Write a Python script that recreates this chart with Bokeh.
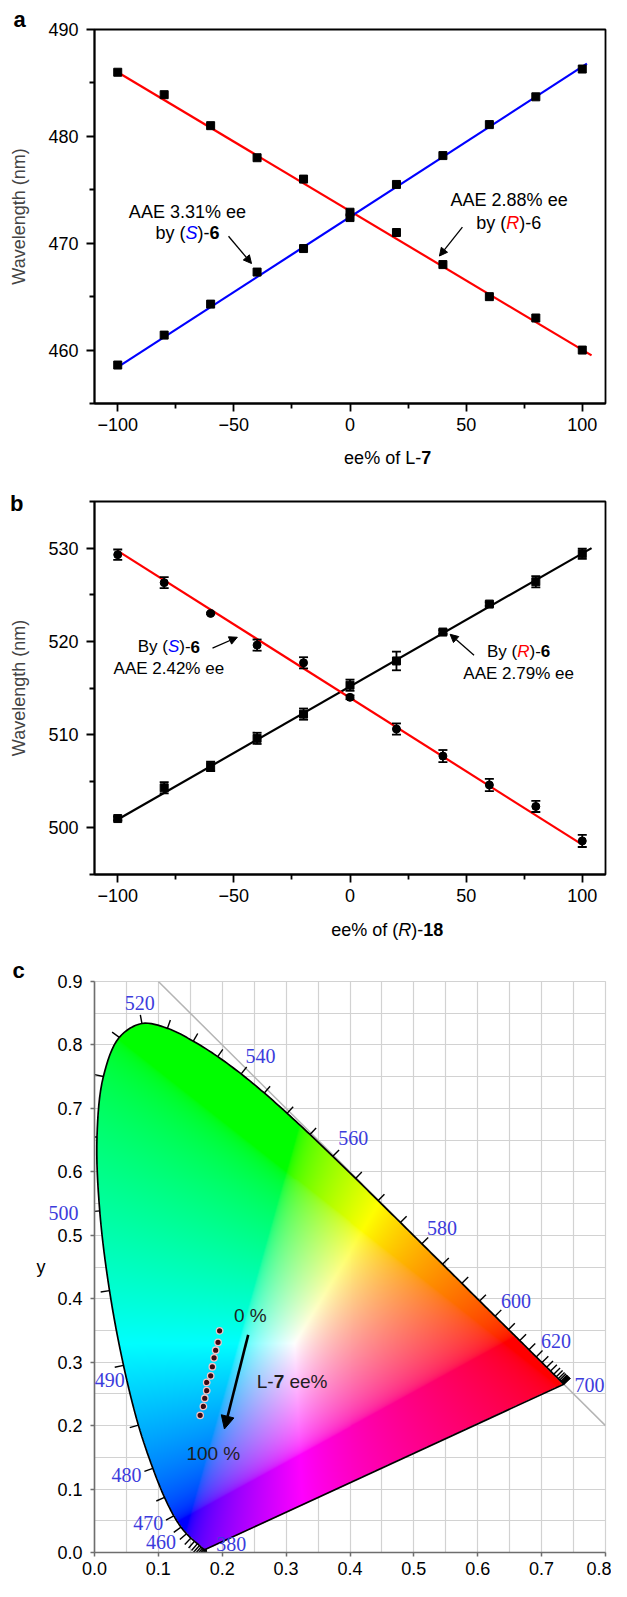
import numpy as np
from bokeh.plotting import figure
from bokeh.models import (Range1d, FixedTicker, LinearAxis, Label, Arrow, NormalHead,
                          Whisker, ColumnDataSource, TeeHead, Title, PrintfTickFormatter)
from bokeh.layouts import column
from bokeh.embed import file_html
from bokeh.resources import INLINE

FONT = "Liberation Sans"
SERIF = "Liberation Serif"

# ---------------- data: panel a ----------------
ee = [-100, -80, -60, -40, -20, 0, 20, 40, 60, 80, 100]
a_R = [486.0, 483.9, 481.0, 478.0, 476.0, 472.9, 471.0, 468.0, 465.0, 463.0, 460.0]
a_S = [458.6, 461.4, 464.3, 467.3, 469.5, 472.4, 475.5, 478.2, 481.1, 483.7, 486.3]
a_fitR_x = [-100, 104]
a_fitR_y = [486.0, 459.5]
a_fitS_x = [-100, 102]
a_fitS_y = [458.4, 486.8]

# ---------------- data: panel b ----------------
b_sq = [501.0, 504.3, 506.6, 509.6, 512.2, 515.3, 517.9, 521.0, 524.0, 526.4, 529.4]
b_sq_err = [0.2, 0.6, 0.5, 0.6, 0.6, 0.6, 1.0, 0.2, 0.2, 0.6, 0.55]
b_ci = [529.3, 526.3, 523.0, 519.6, 517.7, 514.0, 510.6, 507.7, 504.6, 502.3, 498.6]
b_ci_err = [0.55, 0.6, 0.1, 0.6, 0.6, 0.2, 0.6, 0.65, 0.65, 0.6, 0.65]
b_fitSq_x = [-100, 104]
b_fitSq_y = [500.9, 530.0]
b_fitCi_x = [-100, 100]
b_fitCi_y = [529.7, 498.2]

# ---------------- data: panel c (CIE 1931 spectral locus, 380-700 nm every 5 nm) ----------------
cie_nm = list(range(380, 705, 5))
cie_x = [0.1741, 0.1740, 0.1738, 0.1736, 0.1733, 0.1730, 0.1726, 0.1721, 0.1714, 0.1703,
         0.1689, 0.1669, 0.1644, 0.1611, 0.1566, 0.1510, 0.1440, 0.1355, 0.1241, 0.1096,
         0.0913, 0.0687, 0.0454, 0.0235, 0.0082, 0.0039, 0.0139, 0.0389, 0.0743, 0.1142,
         0.1547, 0.1929, 0.2296, 0.2658, 0.3016, 0.3373, 0.3731, 0.4087, 0.4441, 0.4788,
         0.5125, 0.5448, 0.5752, 0.6029, 0.6270, 0.6482, 0.6658, 0.6801, 0.6915, 0.7006,
         0.7079, 0.7140, 0.7190, 0.7230, 0.7260, 0.7283, 0.7300, 0.7311, 0.7320, 0.7327,
         0.7334, 0.7340, 0.7344, 0.7346, 0.7347]
cie_y = [0.0050, 0.0050, 0.0049, 0.0049, 0.0048, 0.0048, 0.0048, 0.0048, 0.0051, 0.0058,
         0.0069, 0.0086, 0.0109, 0.0138, 0.0177, 0.0227, 0.0297, 0.0399, 0.0578, 0.0868,
         0.1327, 0.2007, 0.2950, 0.4127, 0.5384, 0.6548, 0.7502, 0.8120, 0.8338, 0.8262,
         0.8059, 0.7816, 0.7543, 0.7243, 0.6923, 0.6589, 0.6245, 0.5896, 0.5547, 0.5202,
         0.4866, 0.4544, 0.4242, 0.3965, 0.3725, 0.3514, 0.3340, 0.3197, 0.3083, 0.2993,
         0.2920, 0.2859, 0.2809, 0.2770, 0.2740, 0.2717, 0.2700, 0.2689, 0.2680, 0.2673,
         0.2666, 0.2660, 0.2654, 0.2654, 0.2653]
wl_labels = ["520", "540", "560", "580", "600", "620", "700", "490", "480", "470", "460", "380"]
wl_lab_x = [0.071, 0.260, 0.405, 0.544, 0.660, 0.7225, 0.775, 0.024, 0.050, 0.084, 0.104, 0.214]
wl_lab_y = [0.866, 0.782, 0.653, 0.511, 0.397, 0.333, 0.2635, 0.272, 0.122, 0.047, 0.017, 0.014]
wl500_label = "500"
wl500_y = 0.535
ee_pts_x = [0.1959, 0.1934, 0.1897, 0.1872, 0.1845, 0.1819, 0.1757, 0.1757, 0.1726, 0.1705, 0.1654]
ee_pts_y = [0.3494, 0.3313, 0.3188, 0.3068, 0.2928, 0.2784, 0.2680, 0.2551, 0.2431, 0.2302, 0.2162]
diag_x = [0.1, 0.8]
diag_y = [0.9, 0.2]
white_pt = (0.3127, 0.3290)

# ---------------- helpers ----------------
WID = {' ': 278, '%': 889, '(': 333, ')': 333, '-': 333, '.': 278, 'A': 667, 'B': 667,
       'E': 667, 'L': 556, 'R': 722, 'S': 667, 'a': 556, 'b': 556, 'e': 556, 'f': 278,
       'l': 222, 'o': 556, 'y': 500, 'h': 556, 't': 278, 'g': 556, 'n': 556, 'm': 833}


def tw(s):
    return sum(WID.get(ch, 556) for ch in s) / 1000.0


def rich(p, x, y, segs, size, align="center", font=FONT):
    total = sum(tw(t) * size for t, _, _ in segs)
    off = -total / 2.0 if align == "center" else 0.0
    for t, st, col in segs:
        w = tw(t) * size
        lead = len(t) - len(t.lstrip(' '))
        txt = t.strip(' ')
        if txt:
            p.add_layout(Label(x=x, y=y, x_offset=off + lead * 0.278 * size, text=txt,
                               text_font=font, text_font_size=f"{size}px", text_font_style=st,
                               text_color=col, text_align="left", text_baseline="middle"))
        off += w


def base_fig(height, bt, bb, bl, br, xr, yr):
    p = figure(width=611, height=height, x_range=xr, y_range=yr, output_backend="svg",
               toolbar_location=None, min_border_top=bt, min_border_bottom=bb,
               min_border_left=bl, min_border_right=br)
    p.background_fill_color = "white"
    p.border_fill_color = "white"
    return p


def strip(height):
    s = figure(width=611, height=height, x_range=Range1d(0, 611), y_range=Range1d(0, height),
               output_backend="svg", toolbar_location=None, min_border=0,
               x_axis_location=None, y_axis_location=None)
    s.grid.visible = False
    s.outline_line_color = None
    s.background_fill_color = "white"
    s.border_fill_color = "white"
    return s


def letter_title(p, txt, offset, standoff):
    p.title = Title(text=txt, align="left", offset=offset, standoff=standoff,
                    text_font=FONT, text_font_size="22px", text_font_style="bold",
                    text_color="black", vertical_align="bottom")


def letter_axis(p, txt, yval, standoff):
    ax = LinearAxis(ticker=FixedTicker(ticks=[yval], minor_ticks=[]),
                    major_label_overrides={yval: txt}, major_label_text_font=FONT,
                    major_label_text_font_size="22px", major_label_text_font_style="bold",
                    major_label_text_color="black", axis_line_color=None,
                    major_tick_line_color=None, minor_tick_line_color=None,
                    major_tick_out=0, minor_tick_out=0, major_tick_in=0, minor_tick_in=0,
                    major_label_standoff=standoff)
    p.add_layout(ax, "left")


def style_axes(p, yt, ym):
    p.grid.visible = False
    p.xaxis.ticker = FixedTicker(ticks=[-100, -50, 0, 50, 100], minor_ticks=[-75, -25, 25, 75])
    p.yaxis.ticker = FixedTicker(ticks=yt, minor_ticks=ym)
    p.xaxis.major_label_overrides = {-100: "\u2212100", -50: "\u221250"}
    for ax in p.axis:
        ax.axis_line_width = 1.8
        ax.axis_line_color = "black"
        ax.major_tick_line_width = 1.8
        ax.minor_tick_line_width = 1.8
        ax.major_tick_out = 8
        ax.major_tick_in = 0
        ax.minor_tick_out = 5
        ax.minor_tick_in = 0
        ax.major_label_text_font = FONT
        ax.major_label_text_font_size = "18px"
        ax.major_label_text_color = "black"
    p.xaxis.major_label_standoff = 6
    p.yaxis.major_label_standoff = 8
    p.yaxis.axis_label = "Wavelength (nm)"
    p.yaxis.axis_label_text_font = FONT
    p.yaxis.axis_label_text_font_size = "18px"
    p.yaxis.axis_label_text_font_style = "normal"
    p.yaxis.axis_label_standoff = 16
    p.outline_line_color = "black"
    p.outline_line_width = 1.8


def arrow(p, xs, ys, xe, ye, size=8, lw=1.3):
    p.add_layout(Arrow(end=NormalHead(size=size, fill_color="black", line_color="black"),
                       x_start=xs, y_start=ys, x_end=xe, y_end=ye,
                       line_width=lw, line_color="black"))


# ---------------- panel a ----------------
pa = base_fig(439, 29, 36, 91, 2, Range1d(-110, 110), Range1d(455, 490))
style_axes(pa, [460, 470, 480, 490], [455, 465, 475, 485])
letter_title(pa, "a", -81, -5)
pa.line(a_fitR_x, a_fitR_y, line_color="#ff0000", line_width=2.2)
pa.line(a_fitS_x, a_fitS_y, line_color="#0000ff", line_width=2.2)
pa.scatter(ee, a_R, marker="square", size=8, color="black")
pa.scatter(ee, a_S, marker="square", size=8, color="black")
rich(pa, -70, 472.96, [("AAE 3.31% ee", "normal", "black")], 18)
rich(pa, -70, 470.96, [("by (", "normal", "black"), ("S", "italic", "#0000ff"),
                       (")-", "normal", "black"), ("6", "bold", "black")], 18)
rich(pa, 68.5, 474.04, [("AAE 2.88% ee", "normal", "black")], 18)
rich(pa, 68.3, 471.9, [("by (", "normal", "black"), ("R", "italic", "#ff0000"),
                       (")-6", "normal", "black")], 18)
arrow(pa, -52.3, 470.65, -42.4, 468.1)
arrow(pa, 48.4, 471.5, 38.5, 468.8)

cap_a = strip(46)
rich(cap_a, 350.5, 28, [("ee% of L-", "normal", "black"), ("7", "bold", "black")], 18)

# ---------------- panel b ----------------
pb = base_fig(425, 16, 36, 91, 2, Range1d(-110, 110), Range1d(495, 535))
style_axes(pb, [500, 510, 520, 530], [495, 505, 515, 525, 535])
letter_axis(pb, "b", 534.8, -17)
pb.line(b_fitSq_x, b_fitSq_y, line_color="black", line_width=2.2)
pb.line(b_fitCi_x, b_fitCi_y, line_color="#ff0000", line_width=2.2)
src_sq = ColumnDataSource(dict(x=ee, y=b_sq,
                               lo=[v - e for v, e in zip(b_sq, b_sq_err)],
                               hi=[v + e for v, e in zip(b_sq, b_sq_err)]))
src_ci = ColumnDataSource(dict(x=ee, y=b_ci,
                               lo=[v - e for v, e in zip(b_ci, b_ci_err)],
                               hi=[v + e for v, e in zip(b_ci, b_ci_err)]))
for src in (src_sq, src_ci):
    pb.add_layout(Whisker(source=src, base="x", upper="hi", lower="lo", line_width=1.8,
                          line_color="black", level="glyph",
                          upper_head=TeeHead(size=9, line_width=1.8, line_color="black"),
                          lower_head=TeeHead(size=9, line_width=1.8, line_color="black")))
pb.scatter("x", "y", source=src_sq, marker="square", size=8, color="black")
pb.scatter("x", "y", source=src_ci, marker="circle", size=8, color="black")
rich(pb, -78.0, 519.45, [("By (", "normal", "black"), ("S", "italic", "#0000ff"),
                         (")-", "normal", "black"), ("6", "bold", "black")], 17)
rich(pb, -78.0, 517.05, [("AAE 2.42% ee", "normal", "black")], 17)
rich(pb, 72.6, 518.92, [("By (", "normal", "black"), ("R", "italic", "#ff0000"),
                        (")-", "normal", "black"), ("6", "bold", "black")], 17)
rich(pb, 72.6, 516.52, [("AAE 2.79% ee", "normal", "black")], 17)
arrow(pb, -59.2, 519.28, -48.5, 520.44)
arrow(pb, 53.4, 518.5, 43.1, 520.76)

cap_b = strip(45)
rich(cap_b, 350, 26, [("ee% of (", "normal", "black"), ("R", "italic", "black"),
                      (")-", "normal", "black"), ("18", "bold", "black")], 18)

# ---------------- panel c ----------------
pc = base_fig(626, 26, 29, 94, 6, Range1d(0, 0.8), Range1d(0, 0.9))
letter_title(pc, "c", -82, -2)
pc.xaxis.ticker = FixedTicker(ticks=[0.0, 0.1, 0.2, 0.3, 0.4, 0.5, 0.6, 0.7, 0.8])
pc.yaxis.ticker = FixedTicker(ticks=[0.0, 0.1, 0.2, 0.3, 0.4, 0.5, 0.6, 0.7, 0.8, 0.9])
pc.xaxis.formatter = PrintfTickFormatter(format="%.1f")
pc.yaxis.formatter = PrintfTickFormatter(format="%.1f")
pc.xgrid.ticker = FixedTicker(ticks=[round(0.05 * i, 2) for i in range(17)])
pc.ygrid.ticker = FixedTicker(ticks=[round(0.05 * i, 2) for i in range(19)])
pc.grid.grid_line_color = "#d2d2d2"
pc.grid.grid_line_width = 1.2
for ax in pc.axis:
    ax.axis_line_color = "#6e6e6e"
    ax.axis_line_width = 1.6
    ax.major_tick_line_color = "#6e6e6e"
    ax.major_tick_line_width = 1.5
    ax.major_tick_out = 4
    ax.major_tick_in = 0
    ax.minor_tick_line_color = None
    ax.minor_tick_out = 0
    ax.major_label_text_font = FONT
    ax.major_label_text_font_size = "18px"
    ax.major_label_text_color = "black"
pc.xaxis.major_label_standoff = 5
pc.yaxis.major_label_standoff = 8
pc.outline_line_color = "#d2d2d2"
pc.outline_line_width = 1.2

# outer left axis carrying the "500" locus label and the "y" axis title
ax2 = LinearAxis(ticker=FixedTicker(ticks=[wl500_y], minor_ticks=[]),
                 major_label_overrides={wl500_y: wl500_label},
                 major_label_text_font=SERIF, major_label_text_font_size="20px",
                 major_label_text_color="#3c3cdc", axis_line_color=None,
                 major_tick_line_color=None, minor_tick_line_color=None,
                 major_tick_out=0, minor_tick_out=0, major_tick_in=0, minor_tick_in=0,
                 major_label_standoff=-24, axis_label="y", axis_label_standoff=0,
                 axis_label_text_font=FONT, axis_label_text_font_size="18px",
                 axis_label_text_font_style="normal", axis_label_text_color="black")
if "axis_label_orientation" in LinearAxis.properties():
    ax2.axis_label_orientation = "horizontal"
pc.add_layout(ax2, "left")


# smooth outline of the locus (centripetal Catmull-Rom through the tabulated points)
def smooth_closed(px, py, n=8):
    pts = np.column_stack([px, py])
    m = len(pts)
    out = []
    for i in range(m - 1):
        p0 = pts[max(i - 1, 0)]
        p1 = pts[i]
        p2 = pts[i + 1]
        p3 = pts[min(i + 2, m - 1)]
        d01 = max(np.hypot(*(p1 - p0)) ** 0.5, 1e-6)
        d12 = max(np.hypot(*(p2 - p1)) ** 0.5, 1e-6)
        d23 = max(np.hypot(*(p3 - p2)) ** 0.5, 1e-6)
        t0, t1 = 0.0, d01
        t2 = t1 + d12
        t3 = t2 + d23
        for t in np.linspace(t1, t2, n, endpoint=False):
            a1 = (t1 - t) / (t1 - t0) * p0 + (t - t0) / (t1 - t0) * p1
            a2 = (t2 - t) / (t2 - t1) * p1 + (t - t1) / (t2 - t1) * p2
            a3 = (t3 - t) / (t3 - t2) * p2 + (t - t2) / (t3 - t2) * p3
            b1 = (t2 - t) / (t2 - t0) * a1 + (t - t0) / (t2 - t0) * a2
            b2 = (t3 - t) / (t3 - t1) * a2 + (t - t1) / (t3 - t1) * a3
            out.append((t2 - t) / (t2 - t1) * b1 + (t - t1) / (t2 - t1) * b2)
    out.append(pts[-1])
    out = np.array(out)
    return list(out[:, 0]), list(out[:, 1])


sx, sy = smooth_closed(cie_x, cie_y)

# gamut colour field
x0i, x1i, y0i, y1i = 0.0, 0.75, 0.0, 0.85
nx, ny = 480, 540
xs = x0i + (np.arange(nx) + 0.5) * (x1i - x0i) / nx
ys = y0i + (np.arange(ny) + 0.5) * (y1i - y0i) / ny
GX, GY = np.meshgrid(xs, ys)
inside = np.zeros(GX.shape, dtype=bool)
npoly = len(sx)
for i in range(npoly):
    xa, ya = sx[i], sy[i]
    xb, yb = sx[(i + 1) % npoly], sy[(i + 1) % npoly]
    if ya == yb:
        continue
    cond = (ya > GY) != (yb > GY)
    xint = (xb - xa) * (GY - ya) / (yb - ya) + xa
    inside ^= cond & (GX < xint)
Yd = np.maximum(GY, 1e-4)
Xc = GX / Yd
Zc = (1 - GX - GY) / Yd
Rl = 3.2406 * Xc - 1.5372 - 0.4986 * Zc
Gl = -0.9689 * Xc + 1.8758 + 0.0415 * Zc
Bl = 0.0557 * Xc - 0.2040 + 1.0570 * Zc
rgb = np.clip(np.stack([Rl, Gl, Bl], axis=-1), 0, None)
rgb = rgb / (rgb.max(axis=-1, keepdims=True) + 1e-9)
rgb = rgb ** (1 / 2.2)
img = np.zeros((ny, nx), dtype=np.uint32)
view = img.view(dtype=np.uint8).reshape((ny, nx, 4))
view[:, :, 0] = (rgb[:, :, 0] * 255).astype(np.uint8)
view[:, :, 1] = (rgb[:, :, 1] * 255).astype(np.uint8)
view[:, :, 2] = (rgb[:, :, 2] * 255).astype(np.uint8)
view[:, :, 3] = np.where(inside, 255, 0).astype(np.uint8)
pc.image_rgba(image=[img], x=x0i, y=y0i, dw=x1i - x0i, dh=y1i - y0i)

pc.line(diag_x, diag_y, line_color="#b4b4b4", line_width=1.5)

cx = np.array(cie_x)
cy = np.array(cie_y)
tx = np.gradient(cx)
ty = np.gradient(cy)
nrm = np.hypot(tx, ty) + 1e-12
nxv = ty / nrm
nyv = -tx / nrm
sgn = np.sign(nxv * (cx - white_pt[0]) + nyv * (cy - white_pt[1]))
sgn[sgn == 0] = 1
nxv *= sgn
nyv *= sgn
TL = 0.014
pc.segment(cx, cy, cx + nxv * TL, cy + nyv * TL, line_color="black", line_width=1.4)
pc.line(sx + [sx[0]], sy + [sy[0]], line_color="black", line_width=1.7)

for t, lx, ly in zip(wl_labels, wl_lab_x, wl_lab_y):
    pc.add_layout(Label(x=lx, y=ly, text=t, text_font=SERIF, text_font_size="20px",
                        text_color="#3c3cdc", text_align="center", text_baseline="middle"))

pc.scatter(ee_pts_x, ee_pts_y, marker="circle", size=6.5, fill_color="#3a0a12",
           line_color="#f2c4c8", line_width=1.3)
arrow(pc, 0.2406, 0.343, 0.2034, 0.1947, size=13, lw=2.6)
rich(pc, 0.244, 0.373, [("0 %", "normal", "#1e1e1e")], 19)
rich(pc, 0.186, 0.156, [("100 %", "normal", "#1e1e1e")], 19)
rich(pc, 0.254, 0.269, [("L-", "normal", "#1e1e1e"), ("7", "bold", "#1e1e1e"),
                        (" ee%", "normal", "#1e1e1e")], 19, align="left")

layout = column(pa, cap_a, pb, cap_b, pc)
open("out.html", "w").write(file_html(layout, INLINE))
